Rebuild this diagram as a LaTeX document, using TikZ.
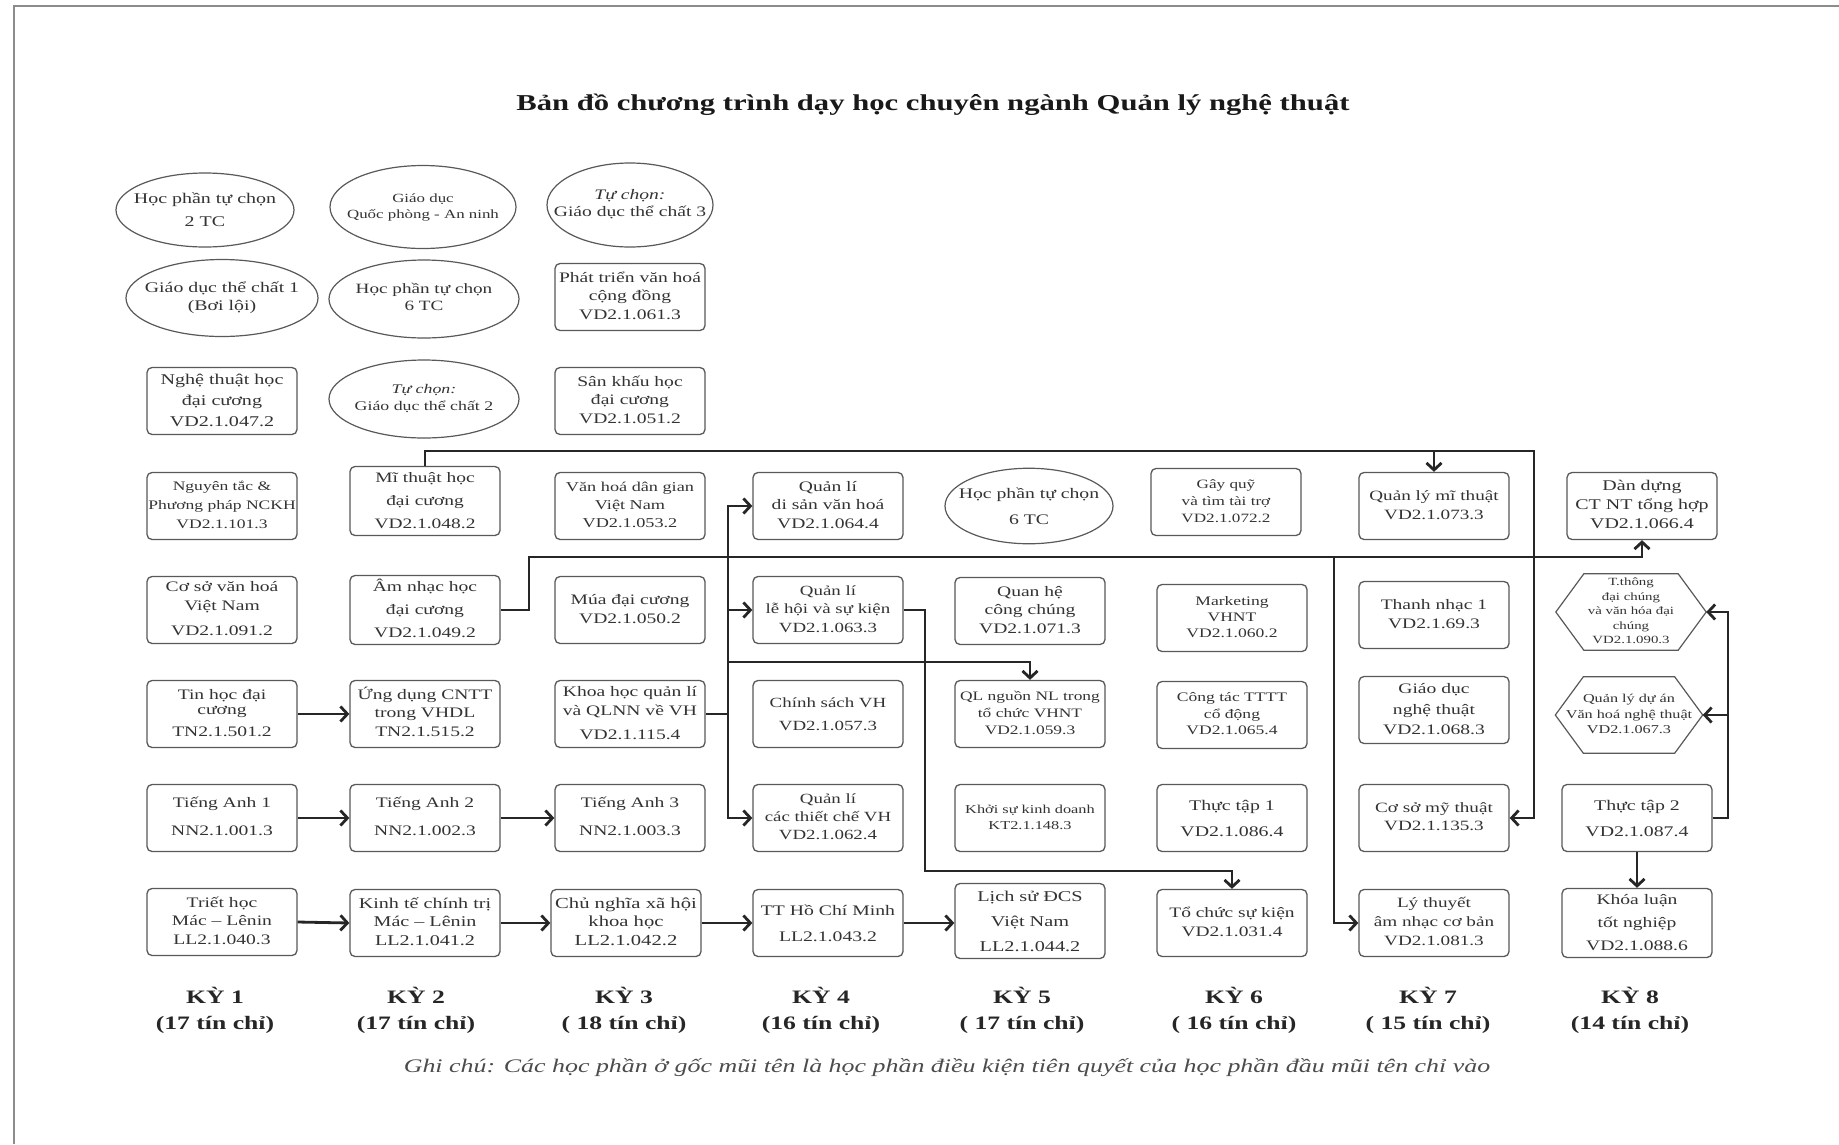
\documentclass[tikz,border=0pt]{standalone}
\usepackage{fontspec}
\setmainfont{Liberation Serif}[FakeStretch=1.35]
\usetikzlibrary{arrows.meta,shapes.geometric}
\newcommand{\fz}[2]{\fontsize{#1pt}{#2pt}\selectfont}
\newcommand{\zw}[1]{\makebox[0pt]{\begin{tabular}{@{}c@{}}#1\end{tabular}}}
\begin{document}
\begin{tikzpicture}[x=1pt,y=-1pt,
  box/.style={draw=black!65, line width=1.3pt, rounded corners=5pt, minimum width=150pt, minimum height=67pt, align=center, inner sep=0pt, text=black!80, font=\fz{14.5}{18.7}},
  oval/.style={ellipse, draw=black!65, line width=1.2pt, align=center, inner sep=0pt, text=black!80},
  hexa/.style={rectangle, align=center, inner sep=0pt, text=black!80, minimum width=150pt, minimum height=76pt},
  hexline/.style={draw=black!65, line width=1.2pt},
  conn/.style={line width=2.8pt, draw=black!85, -{Straight Barb[length=7pt,width=15pt]}},
  sem/.style={font=\bfseries\fz{19}{26}, align=center, text=black!85}
]
\useasboundingbox (0,0) rectangle (1839,1144);
\fill[white] (0,0) rectangle (1839,1144);
\draw[black!45, line width=2pt] (14,1144) -- (14,6) -- (1839,6);

\node[font=\bfseries\fz{22.7}{27}, text=black!90] (title) at (933,105) {Bản đồ chương trình dạy học chuyên ngành Quản lý nghệ thuật};

% column 1
\node[oval, minimum width=178pt, minimum height=74pt, font=\fz{14.8}{23}] (c1r1) at (205,210) {\zw{Học phần tự chọn\\2 TC}};
\node[oval, minimum width=192pt, minimum height=77pt, font=\fz{14.7}{18.3}] (c1r2) at (222,298) {\zw{Giáo dục thể chất 1\\(Bơi lội)}};
\node[box, font=\fz{14.9}{21}] (nghethuat) at (222,401) {\zw{Nghệ thuật học\\đại cương\\VD2.1.047.2}};
\node[box, font=\fz{13}{19}] (nguyentac) at (222,506) {\zw{Nguyên tắc \&\\Phương pháp NCKH\\VD2.1.101.3}};
\node[box] (cosovh) at (222,610) {\zw{Cơ sở văn hoá\\Việt Nam\\[7pt]VD2.1.091.2}};
\node[box] (tinhoc) at (222,714) {\zw{Tin học đại\\[-3pt]cương\\[3pt]TN2.1.501.2}};
\node[box] (ta1) at (222,818) {\zw{Tiếng Anh 1\\[9pt]NN2.1.001.3}};
\node[box] (triet) at (222,922) {\zw{Triết học\\Mác – Lênin\\LL2.1.040.3}};

% column 2
\node[oval, minimum width=186pt, minimum height=83pt, font=\fz{12.5}{16.5}] (gdqp) at (423,207) {\zw{Giáo dục\\Quốc phòng - An ninh}};
\node[oval, minimum width=190pt, minimum height=78pt, font=\fz{14.2}{16.7}] (hp6a) at (424,299) {\zw{Học phần tự chọn\\6 TC}};
\node[oval, minimum width=190pt, minimum height=78pt, font=\fz{13.2}{16.7}] (gdtc2) at (424,399) {\zw{\textit{Tự chọn:}\\Giáo dục thể chất 2}};
\node[box, font=\fz{14.4}{23}] (mithuat) at (425,501) {\zw{Mĩ thuật học\\đại cương\\VD2.1.048.2}};
\node[box, font=\fz{14.5}{23}] (amnhac) at (425,610) {\zw{Âm nhạc học\\đại cương\\VD2.1.049.2}};
\node[box] (ungdung) at (425,714) {\zw{Ứng dụng CNTT\\trong VHDL\\TN2.1.515.2}};
\node[box] (ta2) at (425,818) {\zw{Tiếng Anh 2\\[9pt]NN2.1.002.3}};
\node[box, font=\fz{14.9}{18.7}] (kinhte) at (425,923) {\zw{Kinh tế chính trị\\Mác – Lênin\\LL2.1.041.2}};

% column 3
\node[oval, minimum width=166pt, minimum height=84pt, font=\fz{14.5}{17}] (gdtc3) at (630,205) {\zw{\textit{Tự chọn:}\\Giáo dục thể chất 3}};
\node[box] (phattrien) at (630,297) {\zw{Phát triển văn hoá\\cộng đồng\\VD2.1.061.3}};
\node[box] (sankhau) at (630,401) {\zw{Sân khấu học\\đại cương\\VD2.1.051.2}};
\node[box, font=\fz{13.5}{18.3}] (vhdg) at (630,506) {\zw{Văn hoá dân gian\\Việt Nam\\VD2.1.053.2}};
\node[box] (mua) at (630,610) {\zw{Múa đại cương\\VD2.1.050.2}};
\node[box, font=\fz{14.5}{19}] (khoahoc) at (630,714) {\zw{Khoa học quản lí\\và QLNN về VH\\[5pt]VD2.1.115.4}};
\node[box] (ta3) at (630,818) {\zw{Tiếng Anh 3\\[9pt]NN2.1.003.3}};
\node[box, font=\fz{15.3}{18.7}] (cnxh) at (626,923) {\zw{Chủ nghĩa xã hội\\khoa học\\LL2.1.042.2}};

% column 4
\node[box] (dison) at (828,506) {\zw{Quản lí\\di sản văn hoá\\VD2.1.064.4}};
\node[box, font=\fz{14}{18.7}] (lehoi) at (828,610) {\zw{Quản lí\\lễ hội và sự kiện\\VD2.1.063.3}};
\node[box, font=\fz{14}{23}] (chinhsach) at (828,714) {\zw{Chính sách VH\\VD2.1.057.3}};
\node[box, font=\fz{14}{18.3}] (thietche) at (828,818) {\zw{Quản lí\\các thiết chế VH\\VD2.1.062.4}};
\node[box, font=\fz{14.6}{26.7}] (tthcm) at (828,923) {\zw{TT Hồ Chí Minh\\LL2.1.043.2}};

% column 5
\node[oval, minimum width=168pt, minimum height=72pt, font=\fz{14.6}{26.7}] (hp6b) at (1029,506) {\zw{Học phần tự chọn\\6 TC}};
\node[box] (quanhe) at (1030,611) {\zw{Quan hệ\\công chúng\\VD2.1.071.3}};
\node[box, font=\fz{12.9}{16.7}] (qlnguon) at (1030,714) {\zw{QL nguồn NL trong\\tổ chức VHNT\\VD2.1.059.3}};
\node[box, font=\fz{12.1}{16.7}] (khoisu) at (1030,818) {\zw{\raisebox{6pt}{\begin{tabular}{@{}c@{}}Khởi sự kinh doanh\\KT2.1.148.3\end{tabular}}}};
\node[box, font=\fz{15}{25}] (lichsu) at (1030,921) {\zw{Lịch sử ĐCS\\Việt Nam\\LL2.1.044.2}};

% column 6
\node[box, font=\fz{12.7}{16.7}] (gayquy) at (1226,502) {\zw{Gây quỹ\\và tìm tài trợ\\VD2.1.072.2}};
\node[box, font=\fz{13}{16}] (marketing) at (1232,618) {\zw{Marketing\\VHNT\\VD2.1.060.2}};
\node[box, font=\fz{13}{16.3}] (congtac) at (1232,715) {\zw{Công tác TTTT\\cổ động\\VD2.1.065.4}};
\node[box, font=\fz{14.7}{26.7}] (thuctap1) at (1232,818) {\zw{Thực tập 1\\VD2.1.086.4}};
\node[box, font=\fz{14.4}{19}] (tochuc) at (1232,923) {\zw{Tổ chức sự kiện\\VD2.1.031.4}};

% column 7
\node[box, font=\fz{14.2}{19.3}] (qlmt) at (1434,506) {\zw{Quản lý mĩ thuật\\VD2.1.073.3}};
\node[box] (thanhnhac) at (1434,615) {\zw{Thanh nhạc 1\\VD2.1.69.3}};
\node[box, font=\fz{14.5}{20.8}] (gdnt) at (1434,710) {\zw{Giáo dục\\nghệ thuật\\VD2.1.068.3}};
\node[box, font=\fz{14.2}{17.3}] (cosomt) at (1434,818) {\zw{Cơ sở mỹ thuật\\VD2.1.135.3}};
\node[box, font=\fz{14.2}{19}] (lythuyet) at (1434,923) {\zw{Lý thuyết\\âm nhạc cơ bản\\VD2.1.081.3}};

% column 8
\node[box, font=\fz{14.8}{19}] (dandung) at (1642,506) {\zw{Dàn dựng\\CT NT tổng hợp\\VD2.1.066.4}};
\node[hexa, font=\fz{11}{14.5}] (hex1) at (1631,612) {\zw{T.thông\\đại chúng\\và văn hóa đại\\chúng\\VD2.1.090.3}};
\node[hexa, minimum width=147pt, font=\fz{12}{15.7}] (hex2) at (1629,715) {\zw{Quản lý dự án\\Văn hoá nghệ thuật\\VD2.1.067.3}};
\node[box, font=\fz{14.7}{26.7}] (thuctap2) at (1637,818) {\zw{Thực tập 2\\VD2.1.087.4}};
\node[box, font=\fz{14.5}{23}] (khoaluan) at (1637,923) {\zw{Khóa luận\\tốt nghiệp\\VD2.1.088.6}};

\draw[hexline] (hex1.west) -- ([xshift=28pt]hex1.north west) -- ([xshift=-28pt]hex1.north east) -- (hex1.east) -- ([xshift=-28pt]hex1.south east) -- ([xshift=28pt]hex1.south west) -- cycle;
\draw[hexline] (hex2.west) -- ([xshift=28pt]hex2.north west) -- ([xshift=-28pt]hex2.north east) -- (hex2.east) -- ([xshift=-28pt]hex2.south east) -- ([xshift=28pt]hex2.south west) -- cycle;

% semester labels
\node[sem] (sem1) at (215,1010) {KỲ 1\\(17 tín chỉ)};
\node[sem] (sem2) at (416,1010) {KỲ 2\\(17 tín chỉ)};
\node[sem] (sem3) at (624,1010) {KỲ 3\\( 18 tín chỉ)};
\node[sem] (sem4) at (821,1010) {KỲ 4\\(16 tín chỉ)};
\node[sem] (sem5) at (1022,1010) {KỲ 5\\( 17 tín chỉ)};
\node[sem] (sem6) at (1234,1010) {KỲ 6\\( 16 tín chỉ)};
\node[sem] (sem7) at (1428,1010) {KỲ 7\\( 15 tín chỉ)};
\node[sem] (sem8) at (1630,1010) {KỲ 8\\(14 tín chỉ)};

\node[font=\itshape\fz{19.2}{23}, text=black!70] (note) at (947,1068) {Ghi chú: Các học phần ở gốc mũi tên là học phần điều kiện tiên quyết của học phần đầu mũi tên chỉ vào};

% straight arrows
\draw[conn] (tinhoc.east) -- (ungdung.west);
\draw[conn] (ta1.east) -- (ta2.west);
\draw[conn] (ta2.east) -- (ta3.west);
\draw[conn] (triet.east) -- (kinhte.west);
\draw[conn] (kinhte.east) -- (cnxh.west);
\draw[conn] (cnxh.east) -- (tthcm.west |- cnxh.east);
\draw[conn] (tthcm.east) -- (lichsu.west |- tthcm.east);
\draw[conn] (thuctap2.south) -- (khoaluan.north);

% Mi thuat hoc
\coordinate (m2) at (1534,451);
\draw[conn] (mithuat.north) -- (mithuat.north |- m2) -- (m2) |- (cosomt.east);
\draw[conn] (qlmt.north |- m2) -- (qlmt.north);

% Am nhac hoc
\coordinate (a1) at (529,557);
\coordinate (a2) at (1334,557);
\draw[conn] (amnhac.east) -| (a1) -| (dandung.south);
\draw[conn] (a2) |- (lythuyet.west);

% Khoa hoc quan li
\coordinate (k1) at (728,714);
\coordinate (k2) at (728,662);
\draw[conn] (khoahoc.east) -- (k1) |- (dison.west);
\draw[conn] (k1) |- (thietche.west);
\draw[conn] (k1) |- (lehoi.west);
\draw[conn] (k2) -| (qlnguon.north);

% Le hoi
\coordinate (l1) at (925,871);
\draw[conn] (lehoi.east) -| (l1) -| (tochuc.north);

% Thuc tap 2
\coordinate (t1) at (1728,612);
\draw[conn] (thuctap2.east) -| (t1) -- (hex1.east);
\draw[conn] (t1 |- hex2.east) -- (hex2.east);
\end{tikzpicture}
\end{document}
